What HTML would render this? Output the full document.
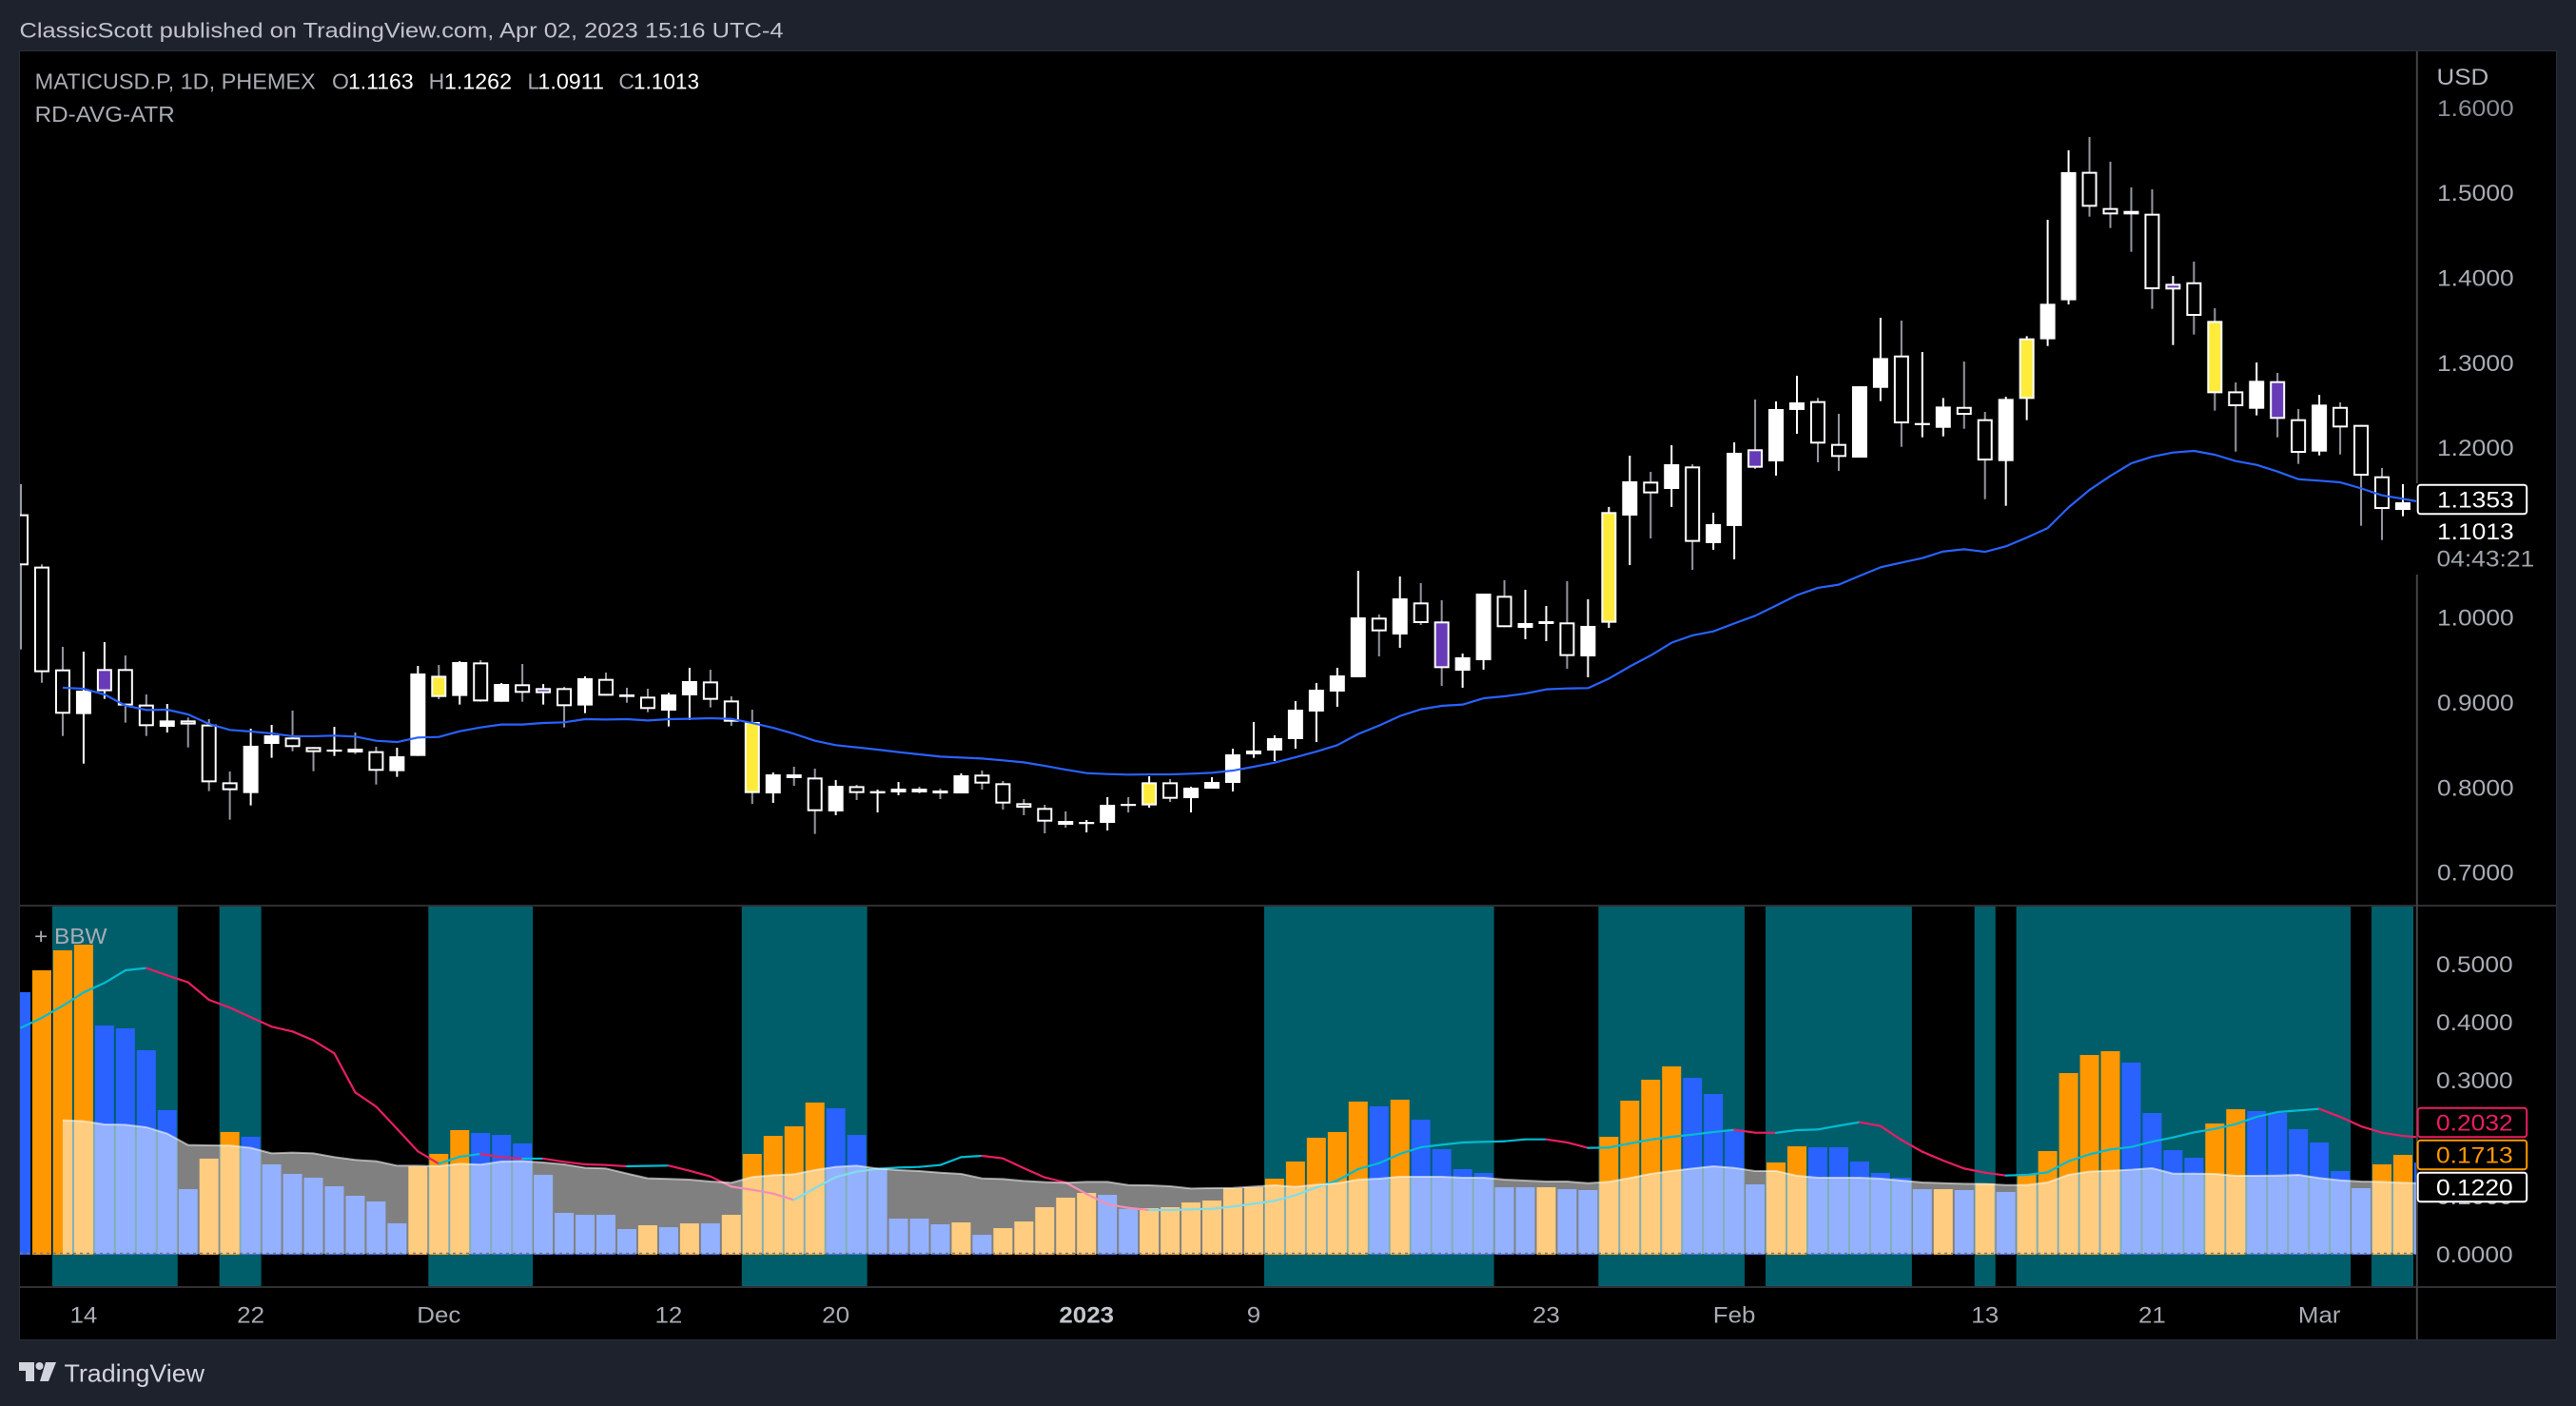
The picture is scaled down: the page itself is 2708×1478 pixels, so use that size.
<!DOCTYPE html>
<html lang="en">
<head>
<meta charset="utf-8">
<title>MATICUSD.P 1D PHEMEX chart</title>
<style>
html,body{margin:0;padding:0;background:#1e222d;width:2708px;height:1478px;overflow:hidden}
svg{display:block}
text{font-family:"Liberation Sans",Arial,sans-serif}
</style>
</head>
<body>
<svg id="chart" xmlns="http://www.w3.org/2000/svg" width="2708" height="1478" viewBox="0 0 2708 1478">
  <defs>
    <clipPath id="clip-main"><rect x="21" y="54" width="2519" height="897"/></clipPath>
    <clipPath id="clip-lower"><rect x="21" y="953" width="2519" height="399"/></clipPath>
  </defs>
  <rect x="0" y="0" width="2708" height="1478" fill="#1e222d"/>
  <text x="20.5" y="39.5" font-size="22.5" fill="#c0c3cb" textLength="803" lengthAdjust="spacingAndGlyphs">ClassicScott published on TradingView.com, Apr 02, 2023 15:16 UTC-4</text>
  <rect x="20" y="53" width="2668" height="1356" fill="#2a2e39"/>
  <rect x="21" y="54" width="2666" height="1354" fill="#000000"/>
  <g id="zones" clip-path="url(#clip-lower)"></g>
  <g id="candles" clip-path="url(#clip-main)"></g>
  <g id="maLine" clip-path="url(#clip-main)"></g>
  <g id="hist" clip-path="url(#clip-lower)"></g>
  <g id="bbwLine" clip-path="url(#clip-lower)"></g>
  <g id="area" clip-path="url(#clip-lower)"></g>
  <rect x="21" y="951" width="2666" height="2" fill="#2e2e32"/>
  <rect x="21" y="1352" width="2666" height="2" fill="#303034"/>
  <g id="priceAxis"></g>
  <g id="bbwAxis"></g>
  <g id="timeAxis"></g>
  <rect x="2541" y="541" width="146" height="63" fill="#000000"/>
  <rect x="2541" y="1164" width="116" height="100" fill="#000000"/>
  <rect x="2539.8" y="54" width="2" height="454" fill="#434347"/>
  <rect x="2539.8" y="604" width="2" height="804" fill="#434347"/>
  <text transform="translate(2561.5,89) scale(1.08,1)" font-size="24" fill="#b2b5be">USD</text>

  <rect x="2541.7" y="509.7" width="114.5" height="30.6" rx="3" fill="#000" stroke="#ffffff" stroke-width="2"/>
  <text transform="translate(2562,533.5) scale(1.1,1)" font-size="24" fill="#ffffff">1.1353</text>
  <text transform="translate(2562,567) scale(1.1,1)" font-size="24" fill="#ffffff">1.1013</text>
  <text transform="translate(2561.5,595.5) scale(1.1,1)" font-size="24" fill="#a0a3ab">04:43:21</text>

  <rect x="2541.7" y="1164.7" width="114.5" height="30.6" rx="3" fill="#000" stroke="#e91e63" stroke-width="2"/>
  <text transform="translate(2561,1188.5) scale(1.1,1)" font-size="24" fill="#e91e63">0.2032</text>
  <rect x="2541.7" y="1198.7" width="114.5" height="30.6" rx="3" fill="#000" stroke="#ff9800" stroke-width="2"/>
  <text transform="translate(2561,1222.5) scale(1.1,1)" font-size="24" fill="#ff9800">0.1713</text>
  <rect x="2541.7" y="1232.7" width="114.5" height="30.6" rx="3" fill="#000" stroke="#ffffff" stroke-width="2"/>
  <text transform="translate(2561,1256.5) scale(1.1,1)" font-size="24" fill="#ffffff">0.1220</text>

  <g>
    <text x="36.7" y="93.5" font-size="23" fill="#a9acb5" textLength="295" lengthAdjust="spacingAndGlyphs">MATICUSD.P, 1D, PHEMEX</text>
    <text x="349" y="93.5" font-size="23" fill="#a9acb5">O</text>
    <text x="366" y="93.5" font-size="23" fill="#ffffff" textLength="68.6" lengthAdjust="spacingAndGlyphs">1.1163</text>
    <text x="450.6" y="93.5" font-size="23" fill="#a9acb5">H</text>
    <text x="467" y="93.5" font-size="23" fill="#ffffff" textLength="71" lengthAdjust="spacingAndGlyphs">1.1262</text>
    <text x="554.5" y="93.5" font-size="23" fill="#a9acb5">L</text>
    <text x="565.4" y="93.5" font-size="23" fill="#ffffff" textLength="69.6" lengthAdjust="spacingAndGlyphs">1.0911</text>
    <text x="650.4" y="93.5" font-size="23" fill="#a9acb5">C</text>
    <text x="666" y="93.5" font-size="23" fill="#ffffff" textLength="69" lengthAdjust="spacingAndGlyphs">1.1013</text>
    <text x="36.7" y="128" font-size="23" fill="#a9acb5" textLength="147" lengthAdjust="spacingAndGlyphs">RD-AVG-ATR</text>
  </g>
  <g>
    <text x="36" y="992" font-size="23" fill="#a9acb5" textLength="76.5" lengthAdjust="spacingAndGlyphs">+ BBW</text>
  </g>

  <g>
    <path d="M20,1432 H36 V1452 H27 V1441 H20 Z M48,1432 H59 L51,1452 H42 Z" fill="#d1d4dc"/>
    <circle cx="41.5" cy="1436" r="4" fill="#d1d4dc"/>
    <text x="67.5" y="1452.5" font-size="26" fill="#d1d4dc" textLength="147.5" lengthAdjust="spacingAndGlyphs">TradingView</text>
  </g>
</svg>
<script>
const open = [1.1216,1.0600,.9390,.8864,.9133,.9394,.8976,.8714,.8789,.8741,
.8061,.7934,.8513,.8588,.8476,.8423,.8457,.8427,.8192,.8371,
.9315,.9077,.9472,.9009,.9215,.9110,.9170,.8965,.9278,.9095,
.9069,.8905,.9084,.9248,.9024,.8770,.7930,.8154,.8117,.7718,
.8016,.7930,.7942,.7986,.7964,.7930,.8151,.8050,.7815,.7759,
.7606,.7572,.7583,.7807,.7789,.8061,.7874,.7986,.8054,.8390,
.8435,.8569,.8894,.9129,.9297,.9999,.9801,1.0178,.9954,.9375,
.9498,1.0256,.9879,.9924,.9943,.9543,.9939,1.1201,1.1600,1.1514,
1.1779,1.0876,1.1078,1.1981,1.1839,1.2444,1.2548,1.2044,1.1883,1.2704,
1.3085,1.2271,1.2234,1.2480,1.2335,1.1842,1.2574,1.3276,1.3735,1.5247,
1.4821,1.4787,1.4754,1.3862,1.3947,1.3492,1.2663,1.2458,1.2783,1.2335,
1.1954,1.2480,1.2268,1.1663,1.1267];
const close = [1.0615,.9357,.8868,.9140,.9394,.8965,.8722,.8789,.8741,.8061,
.7968,.8491,.8614,.8476,.8416,.8446,.8412,.8196,.8367,.9342,
.9065,.9476,.9013,.9218,.9114,.9170,.8957,.9286,.9080,.9065,
.8924,.9095,.9252,.9032,.8774,.7934,.8154,.8110,.7721,.8020,
.7934,.7957,.7986,.7942,.7930,.8143,.8046,.7811,.7762,.7598,
.7561,.7594,.7796,.7785,.8061,.7867,.7998,.8065,.8390,.8435,
.8580,.8916,.9151,.9319,1.0002,.9838,1.0226,.9935,.9405,.9532,
1.0282,.9887,.9935,.9958,.9547,.9902,1.1242,1.1604,1.1462,1.1805,
1.0891,1.1100,1.1940,1.1764,1.2455,1.2533,1.2048,1.1891,1.2723,1.3055,
1.2286,1.2290,1.2484,1.2387,1.1849,1.2574,1.3287,1.3694,1.5243,1.4836,
1.4746,1.4746,1.3865,1.3929,1.3552,1.2641,1.2488,1.2787,1.2339,1.1939,
1.2507,1.2238,1.1670,1.1278,1.1357];
const high = [1.1570,1.0626,.9655,.9599,.9711,.9554,.9095,.8983,.8823,.8804,
.8188,.8692,.8737,.8905,.8476,.8714,.8647,.8479,.8468,.9431,
.9442,.9487,.9498,.9230,.9454,.9218,.9185,.9308,.9353,.9174,
.9162,.9114,.9409,.9386,.9073,.8916,.8177,.8244,.8222,.8087,
.8031,.7975,.8065,.8009,.7986,.8166,.8199,.8076,.7863,.7796,
.7718,.7617,.7886,.7886,.8132,.8098,.8009,.8121,.8457,.8771,
.8614,.9017,.9230,.9409,1.0551,1.0036,1.0484,1.0406,1.0204,.9577,
1.0282,1.0439,1.0327,1.0137,1.0428,1.0215,1.1302,1.1906,1.1716,1.2029,
1.1805,1.1234,1.2063,1.2567,1.2545,1.2847,1.2586,1.2399,1.2723,1.3529,
1.3496,1.3126,1.2585,1.3014,1.2421,1.2600,1.3313,1.4683,1.5500,1.5657,
1.5366,1.5064,1.5041,1.4022,1.4190,1.3641,1.2768,1.3003,1.2880,1.2454,
1.2622,1.2533,1.2268,1.1760,1.1570];
const low = [.9625,.9233,.8606,.8281,.9043,.8763,.8606,.8647,.8472,.7957,
.7621,.7789,.8349,.8427,.8192,.8371,.8393,.8035,.8125,.8371,
.9039,.8976,.9009,.9009,.9009,.8976,.8707,.8875,.9080,.8998,
.8886,.8718,.8793,.8942,.8726,.7807,.7818,.8020,.7453,.7673,
.7852,.7706,.7908,.7930,.7863,.7930,.7975,.7740,.7673,.7460,
.7527,.7471,.7494,.7706,.7762,.7830,.7706,.7986,.7953,.8349,
.8311,.8457,.8535,.8950,.9297,.9543,.9644,.9913,.9196,.9174,
.9387,.9887,.9745,.9722,.9398,.9297,.9879,1.0618,1.0932,1.1302,
1.0562,1.0798,1.0686,1.1749,1.1671,1.2164,1.1828,1.1727,1.1883,1.2548,
1.2010,1.2122,1.2133,1.2223,1.1394,1.1316,1.2324,1.3197,1.3686,1.4720,
1.4586,1.4306,1.3634,1.3208,1.3332,1.2436,1.1954,1.2380,1.2122,1.1809,
1.1909,1.1920,1.1081,1.0913,1.1193];
const yellowBars = [20,35,54,76,96,105];
const purpleBars = [4,25,68,83,103,108];
const maValues = [null,null,.9174,.9162,.9095,.8965,.8912,.8916,.8860,.8748,
.8677,.8659,.8636,.8603,.8603,.8610,.8599,.8550,.8535,.8588,
.8595,.8662,.8707,.8741,.8741,.8759,.8767,.8804,.8800,.8804,
.8789,.8804,.8808,.8815,.8808,.8759,.8703,.8632,.8550,.8498,
.8472,.8446,.8416,.8390,.8363,.8352,.8341,.8319,.8296,.8255,
.8210,.8169,.8158,.8151,.8154,.8154,.8162,.8173,.8199,.8244,
.8292,.8356,.8423,.8498,.8629,.8729,.8841,.8920,.8961,.8976,
.9050,.9073,.9106,.9155,.9166,.9170,.9282,.9424,.9554,.9704,
.9790,.9838,.9931,1.0021,1.0141,1.0264,1.0350,1.0387,1.0491,1.0592,
1.0647,1.0700,1.0778,1.0804,1.0774,1.0838,1.0942,1.1054,1.1297,1.1502,
1.1667,1.1816,1.1894,1.1943,1.1962,1.1917,1.1842,1.1797,1.1719,1.1629,
1.1611,1.1592,1.1521,1.1439,1.1398,1.1353];
const histValues = [.4513,.4890,.5235,.5333,.3940,.3890,.3513,.2481,.1120,.1645,
.2104,.2022,.1546,.1382,.1317,.1169,.1005,.0907,.0530,.1513,
.1727,.2136,.2087,.2054,.1907,.1366,.0710,.0677,.0677,.0431,
.0497,.0464,.0529,.0529,.0677,.1726,.2037,.2201,.2611,.2513,
.2054,.1474,.0611,.0611,.0513,.0546,.0332,.0447,.0562,.0808,
.0972,.1054,.1021,.0780,.0791,.0808,.0890,.0923,.1136,.1152,
.1300,.1595,.2005,.2103,.2628,.2546,.2660,.2316,.1808,.1464,
.1398,.1152,.1152,.1152,.1119,.1103,.2021,.2644,.3005,.3234,
.3037,.2759,.2147,.1201,.1578,.1857,.1841,.1841,.1595,.1398,
.1316,.1119,.1119,.1103,.1218,.1070,.1365,.1775,.3119,.3431,
.3496,.3300,.2431,.1791,.1660,.2250,.2496,.2464,.2431,.2152,
.1923,.1431,.1136,.1546,.1709,.1578];
const histDirection = ("b o o o b b b b b o o b b b b b b b b o o o b b b b b b b b " +
"o b o b o o o o o b b b b b b o b o o o o o b b o o o o o o " +
"o o o o o b o b b b b b b o b b o o o o b b b b o o b b b b " +
"b b o b o b o o o o o b b b b o o b b b b b b o o b").split(" ");
const avgValues = [null,null,.2306,.2289,.2235,.2229,.2186,.2076,.1880,.1874,
.1869,.1830,.1737,.1748,.1737,.1672,.1623,.1601,.1524,.1524,
.1513,.1557,.1541,.1595,.1601,.1579,.1546,.1486,.1475,.1388,
.1306,.1295,.1283,.1250,.1229,.1327,.1360,.1376,.1447,.1502,
.1524,.1474,.1447,.1431,.1403,.1382,.1305,.1294,.1261,.1240,
.1229,.1245,.1245,.1190,.1185,.1168,.1130,.1136,.1141,.1163,
.1185,.1158,.1196,.1218,.1283,.1300,.1332,.1332,.1332,.1316,
.1316,.1283,.1267,.1250,.1250,.1223,.1245,.1311,.1382,.1431,
.1474,.1513,.1485,.1431,.1431,.1349,.1316,.1316,.1316,.1300,
.1267,.1234,.1223,.1212,.1207,.1190,.1190,.1234,.1365,.1420,
.1436,.1453,.1480,.1387,.1387,.1382,.1349,.1349,.1354,.1365,
.1311,.1272,.1250,.1245,.1229,.1218];
const signalValues = [.3901,.4071,.4278,.4508,.4672,.4890,.4929,.4803,.4683,.4382,
.4246,.4082,.3918,.3836,.3683,.3459,.2787,.2541,.2158,.1770,
.1557,.1677,.1727,.1666,.1645,.1645,.1590,.1546,.1535,.1513,
.1519,.1524,.1436,.1338,.1163,.1108,.1043,.0933,.1136,.1327,
.1420,.1469,.1491,.1502,.1535,.1671,.1693,.1649,.1480,.1321,
.1234,.1037,.0857,.0797,.0759,.0759,.0770,.0780,.0819,.0868,
.0917,.1015,.1147,.1267,.1464,.1567,.1726,.1841,.1884,.1923,
.1934,.1944,.1977,.1977,.1923,.1830,.1835,.1906,.1972,.2021,
.2059,.2103,.2141,.2092,.2090,.2136,.2147,.2212,.2272,.2207,
.1966,.1764,.1611,.1474,.1403,.1354,.1365,.1409,.1600,.1720,
.1802,.1846,.1939,.2010,.2097,.2158,.2240,.2365,.2447,.2475,
.2502,.2365,.2201,.2092,.2037,.2005];
const squeezeRanges = [[2,7],[10,11],[20,24],[35,40],[60,70],[76,82],[84,90],[94,94],[96,111],[113,114]];
const priceTicks = [1.6,1.5,1.4,1.3,1.2,1.1,1.0,0.9,0.8,0.7];
const bbwTicks = [0.5,0.4,0.3,0.2,0.1,0];
const timeTickBars = [3,11,20,31,39,51,59,73,82,94,102,110];
const timeTickLabels = ["14","22","Dec","12","20","2023","9","23","Feb","13","21","Mar"];

const SVGNS = "http://www.w3.org/2000/svg";
function barX(i){ return 22 + 21.965 * i; }
function priceY(p){ return 202.7 + (1.5 - p) * 893; }
function bbwY(v){ return 1318.3 - 610 * v; }
function make(parentId, tag, attrs){
  const node = document.createElementNS(SVGNS, tag);
  for (const k in attrs) node.setAttribute(k, attrs[k]);
  document.getElementById(parentId).appendChild(node);
  return node;
}

squeezeRanges.forEach(function(r){
  const x0 = barX(r[0]) - 11, x1 = barX(r[1]) + 11;
  const el = make("zones", "rect", {x:x0, y:953, width:x1-x0, height:399, fill:"#005e6a"});
  
  
});

open.forEach(function(o, i){
  const c = close[i], up = c > o, x = barX(i);
  const top = priceY(Math.max(o, c)), bot = priceY(Math.min(o, c));
  const wick = make("candles", "rect", {x:x-1, y:priceY(high[i]), width:2, height:Math.max(priceY(low[i])-priceY(high[i]),1), fill: up ? "#ffffff" : "#9598a1"});
  
  
  let fill = up ? "#ffffff" : "#000000";
  if (yellowBars.indexOf(i) >= 0) fill = "#ffeb3b";
  if (purpleBars.indexOf(i) >= 0) fill = "#673ab7";
  const body = make("candles", "rect", {x:x-7, y:top+1, width:14, height:Math.max(bot-top-2,0.2), fill:fill, stroke:"#ffffff", "stroke-width":2});
  
  
});

(function(){
  let d = "";
  maValues.forEach(function(v, i){
    if (v === null) return;
    d += (d ? "L" : "M") + barX(i).toFixed(2) + "," + priceY(v).toFixed(2);
  });
  const el = make("maLine", "path", {d:d, fill:"none", stroke:"#2962ff", "stroke-width":2.2, "stroke-linejoin":"round"});
  
  
})();

histValues.forEach(function(v, i){
  const y = bbwY(v);
  const el = make("hist", "rect", {x:barX(i)-10, y:y, width:20, height:bbwY(0)-y+0.7, fill: histDirection[i] === "o" ? "#ff9800" : "#2962ff"});
  
  
});

signalValues.forEach(function(v, i){
  if (i === 0) return;
  const prev = signalValues[i-1];
  const el = make("bbwLine", "line", {x1:barX(i-1), y1:bbwY(prev), x2:barX(i), y2:bbwY(v), stroke: v >= prev ? "#00bcd4" : "#e91e63", "stroke-width":2.2, "stroke-linecap":"round"});
  
  
});

(function(){
  let top = "", first = null, last = null;
  avgValues.forEach(function(v, i){
    if (v === null) return;
    if (first === null) first = barX(i);
    last = barX(i);
    top += (top ? "L" : "M") + barX(i).toFixed(2) + "," + bbwY(v).toFixed(2);
  });
  const fillPath = top + "L" + last.toFixed(2) + "," + bbwY(0) + "L" + first.toFixed(2) + "," + bbwY(0) + "Z";
  const fillEl = make("area", "path", {d:fillPath, fill:"rgba(255,255,255,0.5)"});
  
  
  const lineEl = make("area", "path", {d:top, fill:"none", stroke:"rgba(255,255,255,0.55)", "stroke-width":2});
  
  
  const base = make("area", "line", {x1:21, y1:bbwY(0)-0.8, x2:2540, y2:bbwY(0)-0.8, stroke:"#787b86", "stroke-width":1.5, "stroke-dasharray":"3 4"});
  
  
})();

priceTicks.forEach(function(v){
  const y = priceY(v);
  const el = make("priceAxis", "text", {transform:"translate(2562," + (y+8.5).toFixed(1) + ") scale(1.1,1)", "font-size":24, fill: v > 1.55 ? "#8c8f97" : "#a8abb3"});
  
  
  el.textContent = v.toFixed(4);
});

bbwTicks.forEach(function(v){
  const y = bbwY(v);
  const el = make("bbwAxis", "text", {transform:"translate(2561," + (y+8.5).toFixed(1) + ") scale(1.1,1)", "font-size":24, fill:"#a8abb3"});
  
  
  el.textContent = v.toFixed(4);
});

timeTickBars.forEach(function(b, i){
  const isYear = timeTickLabels[i].length === 4;
  const el = make("timeAxis", "text", {transform:"translate(" + barX(b).toFixed(1) + ",1390.5) scale(1.08,1)", "text-anchor":"middle", "font-size":24, "font-weight": isYear ? 700 : 400, fill: isYear ? "#c4c6ce" : "#a8abb3"});
  
  
  el.textContent = timeTickLabels[i];
});
</script>
</body>
</html>
